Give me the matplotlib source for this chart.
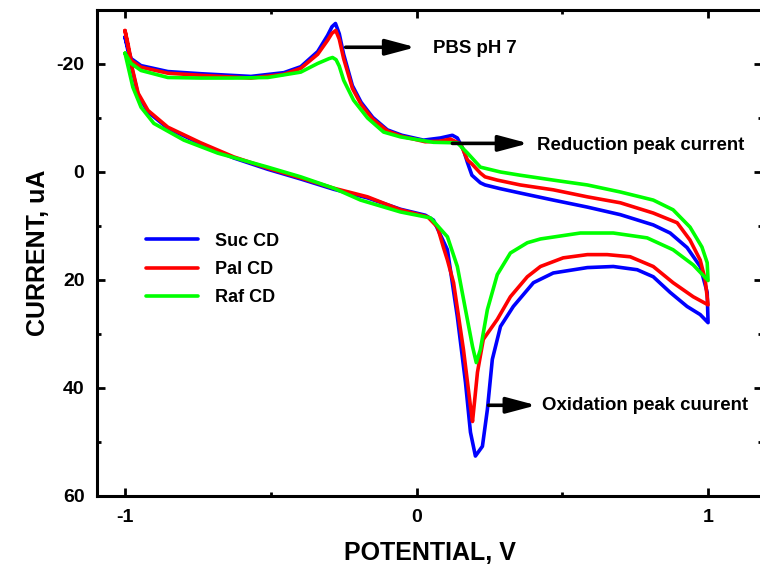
import matplotlib
matplotlib.use("Agg")
import matplotlib.pyplot as plt
from matplotlib.ticker import MultipleLocator

plt.rcParams['font.family'] = ['Liberation Sans', 'DejaVu Sans']
plt.rcParams['font.weight'] = 'bold'

# Cyclic voltammograms: forward sweep (-1 V -> 1 V) followed by the reverse sweep (1 V -> -1 V)
suc_potential = [-1.0, -0.979, -0.955, -0.921, -0.853, -0.740, -0.627, -0.510, -0.397, -0.284,
                 -0.168, -0.055, 0.030, 0.058, 0.106, 0.140, 0.168, 0.185, 0.202, 0.226,
                 0.243, 0.260, 0.288, 0.332, 0.401, 0.469, 0.586, 0.675, 0.757, 0.812,
                 0.870, 0.928, 0.973, 1.0,
                 0.997, 0.973, 0.928, 0.870, 0.812, 0.699, 0.586, 0.469, 0.356, 0.288,
                 0.235, 0.219, 0.190, 0.175, 0.161, 0.140, 0.123, 0.082, 0.024, -0.05,
                 -0.10, -0.15, -0.19, -0.22, -0.25, -0.265, -0.278, -0.29, -0.305, -0.339,
                 -0.397, -0.455, -0.568, -0.740, -0.853, -0.945, -0.979, -0.990, -1.0]
suc_current = [-25.0, -19.8, -14.3, -11.1, -8.1, -5.2, -2.6, -0.5, 1.3, 3.2,
               4.8, 6.9, 8.0, 8.9, 14.4, 26.8, 39.0, 48.2, 52.6, 50.8,
               44.0, 34.7, 28.6, 24.9, 20.5, 18.7, 17.7, 17.5, 18.1, 19.4,
               22.3, 24.9, 26.4, 27.9,
               22.3, 17.5, 14.0, 11.3, 9.8, 7.9, 6.5, 5.2, 3.9, 3.1,
               2.4, 2.0, 0.6, -1.7, -4.1, -6.3, -6.8, -6.3, -5.9, -6.8,
               -7.8, -10.1, -12.9, -16.0, -21.8, -25.6, -27.5, -26.9, -25.3, -22.3,
               -19.5, -18.4, -17.7, -18.2, -18.6, -19.7, -21.0, -23.0, -25.0]

pal_potential = [-1.0, -0.979, -0.955, -0.921, -0.853, -0.740, -0.627, -0.510, -0.397, -0.284,
                 -0.168, -0.055, 0.038, 0.072, 0.092, 0.106, 0.127, 0.161, 0.185, 0.192,
                 0.199, 0.209, 0.229, 0.277, 0.322, 0.380, 0.425, 0.503, 0.586, 0.654,
                 0.733, 0.812, 0.880, 0.949, 1.0,
                 0.990, 0.973, 0.938, 0.894, 0.812, 0.699, 0.586, 0.469, 0.356, 0.277,
                 0.235, 0.219, 0.190, 0.175, 0.151, 0.116, 0.080, 0.030, -0.05, -0.10,
                 -0.15, -0.19, -0.22, -0.25, -0.265, -0.277, -0.29, -0.305, -0.339, -0.397,
                 -0.455, -0.568, -0.740, -0.853, -0.945, -0.979, -0.990, -1.0]
pal_current = [-26.2, -20.1, -14.6, -11.4, -8.3, -5.4, -2.8, -0.7, 1.1, 3.0,
               4.6, 7.0, 8.3, 10.2, 13.9, 16.3, 20.5, 32.9, 43.4, 46.2,
               42.5, 37.1, 31.0, 27.3, 23.1, 19.4, 17.5, 15.9, 15.3, 15.3,
               15.7, 17.5, 20.5, 23.1, 24.6,
               19.9, 16.3, 12.6, 9.4, 7.6, 5.7, 4.6, 3.3, 2.4, 1.5,
               0.9, 0.2, -1.5, -2.2, -5.2, -6.1, -5.7, -5.6, -6.6, -7.6,
               -9.8, -12.5, -15.5, -21.0, -24.6, -26.2, -25.7, -24.4, -21.8, -19.2,
               -18.1, -17.4, -17.9, -18.3, -19.4, -20.7, -23.8, -26.2]

raf_potential = [-1.0, -0.973, -0.945, -0.901, -0.798, -0.682, -0.510, -0.397, -0.284, -0.192,
                 -0.055, 0.048, 0.106, 0.140, 0.168, 0.192, 0.205, 0.219, 0.243, 0.277,
                 0.322, 0.380, 0.425, 0.562, 0.675, 0.791, 0.880, 0.949, 1.0,
                 0.997, 0.979, 0.938, 0.880, 0.812, 0.699, 0.586, 0.469, 0.356, 0.288,
                 0.219, 0.175, 0.140, 0.058, -0.055, -0.113, -0.168, -0.216, -0.250, -0.265,
                 -0.276, -0.288, -0.30, -0.339, -0.397, -0.510, -0.627, -0.740, -0.853, -0.945,
                 -0.979, -1.0]
raf_current = [-22.0, -15.7, -12.0, -9.0, -5.9, -3.5, -0.9, 0.9, 3.0, 5.2,
               7.4, 8.5, 12.0, 17.5, 25.5, 32.3, 35.3, 32.9, 25.5, 19.0,
               15.0, 13.1, 12.4, 11.3, 11.3, 12.2, 14.4, 17.2, 20.1,
               16.8, 13.9, 10.2, 7.0, 5.2, 3.7, 2.4, 1.5, 0.6, 0.0,
               -0.9, -3.5, -5.4, -5.5, -6.5, -7.4, -10.0, -13.3, -17.0, -19.6,
               -20.8, -21.2, -21.0, -20.1, -18.5, -17.5, -17.4, -17.4, -17.5, -18.8,
               -20.1, -22.0]

series_labels = ['Suc CD', 'Pal CD', 'Raf CD']
series_colors = ['#0000ff', '#ff0000', '#00ff00']

fig = plt.figure(figsize=(7.6, 5.71), dpi=100)
ax = fig.add_axes([97 / 760, 1 - 496 / 571, 665 / 760, 486 / 571])

for pot, cur, lab, col in zip([suc_potential, pal_potential, raf_potential],
                              [suc_current, pal_current, raf_current],
                              series_labels, series_colors):
    ax.plot(pot, cur, color=col, lw=2.6, label=lab,
            solid_joinstyle='round', solid_capstyle='round')

ax.set_xlim(-1.096, 1.185)
ax.set_ylim(60, -30)

ax.xaxis.set_minor_locator(MultipleLocator(0.5))
ax.yaxis.set_minor_locator(MultipleLocator(10))
ax.set_xticks([-1, 0, 1])
ax.set_xticklabels(['-1', '0', '1'])
ax.set_yticks([-20, 0, 20, 40, 60])
ax.set_yticklabels(['-20', '0', '20', '40', '60'])

for s in ax.spines.values():
    s.set_linewidth(2.2)
ax.tick_params(which='both', direction='in', top=True, right=True, width=2.0)
ax.tick_params(which='major', length=6, labelsize=14, pad=9)
ax.tick_params(which='minor', length=3)

ax.set_xlabel('POTENTIAL, V', fontsize=18, fontweight='bold', labelpad=11)
ax.set_ylabel('CURRENT, uA', fontsize=18, fontweight='bold', labelpad=5)

ax.legend(loc='upper left', bbox_to_anchor=(0.049, 0.575), frameon=False,
          fontsize=13, handlelength=2.9, handletextpad=0.95, labelspacing=0.62)

arrow_style = dict(arrowstyle='-|>,head_length=0.9,head_width=0.24', lw=2.6,
                   color='black', mutation_scale=20, shrinkA=0, shrinkB=0)

ax.annotate('', xy=(-0.003, -23.1), xytext=(-0.243, -23.1), arrowprops=arrow_style)
ax.text(0.058, -22.9, 'PBS pH 7', fontsize=13.4, fontweight='bold', va='center', ha='left')

ax.annotate('', xy=(0.384, -5.3), xytext=(0.123, -5.3), arrowprops=arrow_style)
ax.text(0.414, -4.9, 'Reduction peak current', fontsize=13.4, fontweight='bold',
        va='center', ha='left')

ax.annotate('', xy=(0.411, 43.2), xytext=(0.247, 43.2), arrowprops=arrow_style)
ax.text(0.432, 43.3, 'Oxidation peak cuurent', fontsize=13.4, fontweight='bold',
        va='center', ha='left')

fig.savefig('out.png', dpi=100)
